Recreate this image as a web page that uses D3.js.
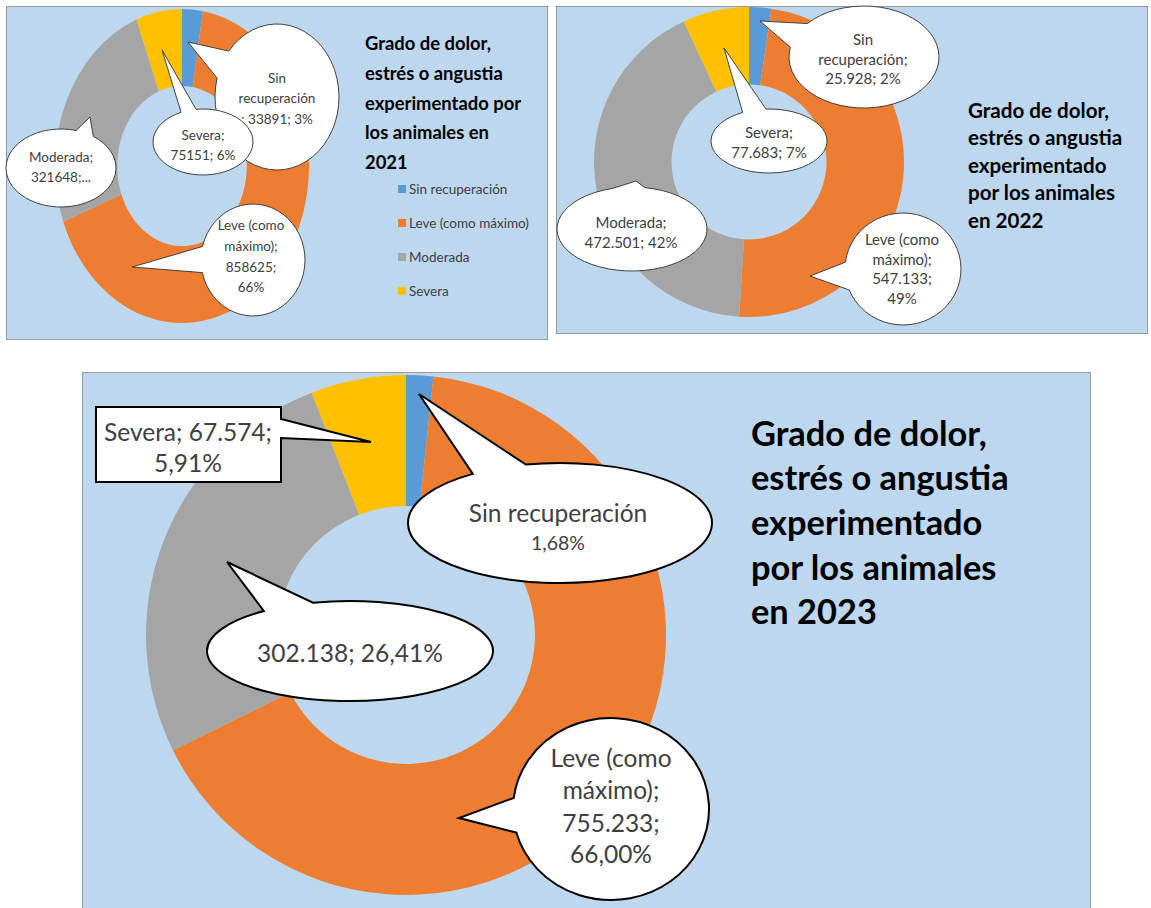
<!DOCTYPE html>
<html>
<head>
<meta charset="utf-8">
<script src="https://cdn.jsdelivr.net/npm/d3@7"></script>
<style>
  body { margin: 0; background: #ffffff; }
  svg { display: block; }
  text { font-family: Lato, "Open Sans", sans-serif; }
</style>
</head>
<body>
<svg id="chart" width="1151" height="908"></svg>
<script>
// ---- data -------------------------------------------------------------
const categories = ["Sin recuperación", "Leve (como máximo)", "Moderada", "Severa"];

const values2021 = [33891, 858625, 321648, 75151];
const values2022 = [25928, 547133, 472501, 77683];
const values2023 = [19250, 755233, 302138, 67574];

const labels2021 = [
  ["Sin", "recuperación", "; 33891; 3%"],
  ["Leve (como", "máximo);", "858625;", "66%"],
  ["Moderada;", "321648;..."],
  ["Severa;", "75151; 6%"]
];
const labels2022 = [
  ["Sin", "recuperación;", "25.928; 2%"],
  ["Leve (como", "máximo);", "547.133;", "49%"],
  ["Moderada;", "472.501; 42%"],
  ["Severa;", "77.683; 7%"]
];
const labels2023 = [
  ["Sin recuperación", "1,68%"],
  ["Leve (como", "máximo);", "755.233;", "66,00%"],
  ["302.138; 26,41%"],
  ["Severa; 67.574;", "5,91%"]
];

const title2021 = ["Grado de dolor,", "estrés o angustia", "experimentado por", "los animales en", "2021"];
const title2022 = ["Grado de dolor,", "estrés o angustia", "experimentado", "por los animales", "en 2022"];
const title2023 = ["Grado de dolor,", "estrés o angustia", "experimentado", "por los animales", "en 2023"];

// ---- styles -----------------------------------------------------------
const sliceColors = ["#5B9BD5", "#ED7D31", "#A5A5A5", "#FFC000"];
const panelFill = "#BDD7EE";
const panelStroke = "#9a9a9a";
const labelColor = "#404040";

// ---- layout of the three panels ---------------------------------------
const panels = [
  {
    values: values2021, labels: labels2021,
    box: { x: 6, y: 6, w: 541, h: 333 },
    donut: { cx: 182, cy: 166, rx: 127, ry: 157, hole: 0.51 },
    title: title2021, titleX: 365, titleY: 43, titleStep: 29.8, titleSize: 18.4,
    labelSize: 13.5, calloutStroke: "#404040", calloutWidth: 1,
    callouts: [
      { cx: 277, cy: 97, rx: 62, ry: 73, a: [219, 195], tip: [188, 42], x: 277, ys: [78, 98, 119] },
      { cx: 253, cy: 260, rx: 52, ry: 56, a: [194, 167], tip: [132, 267], x: 251, ys: [225, 246, 267, 287] },
      { cx: 61, cy: 168, rx: 55, ry: 39, a: [286, 306], tip: [90, 117], x: 61, ys: [157, 177] },
      { cx: 203, cy: 142, rx: 50, ry: 33, a: [244, 262], tip: [162, 50], x: 203, ys: [135, 155] }
    ],
    legend: { x: 398, y: 189, step: 34, size: 13.5 }
  },
  {
    values: values2022, labels: labels2022,
    box: { x: 556, y: 6, w: 591, h: 327 },
    donut: { cx: 749, cy: 162, rx: 155, ry: 155, hole: 0.5 },
    title: title2022, titleX: 968, titleY: 110, titleStep: 27.4, titleSize: 20.6,
    labelSize: 15, calloutStroke: "#404040", calloutWidth: 1,
    callouts: [
      { cx: 864, cy: 57, rx: 75, ry: 51, a: [221, 191], tip: [760, 21], x: 863, ys: [39, 59, 78] },
      { cx: 903, cy: 269, rx: 58, ry: 56, a: [187, 158], tip: [810, 276], x: 902, ys: [239, 259, 278, 298] },
      { cx: 632, cy: 229, rx: 75, ry: 42, a: [255, 280], tip: [636, 181], x: 631, ys: [222, 242] },
      { cx: 769, cy: 141, rx: 58, ry: 32, a: [243, 267], tip: [724, 48], x: 769, ys: [132, 152] }
    ]
  },
  {
    values: values2023, labels: labels2023,
    box: { x: 82, y: 372, w: 1008, h: 560 },
    donut: { cx: 406, cy: 635, rx: 260, ry: 260, hole: 0.496 },
    title: title2023, titleX: 751, titleY: 432, titleStep: 44.7, titleSize: 34.4,
    labelSize: 24.5, calloutStroke: "#000000", calloutWidth: 2,
    callouts: [
      { cx: 560, cy: 523, rx: 152, ry: 60, a: [235, 257], tip: [419, 394], x: 558, ys: [512, 542], sizes: [24.5, 19.5] },
      { cx: 611, cy: 809, rx: 98, ry: 91, a: [187, 165], tip: [459, 818], x: 611, ys: [757, 789, 822, 853] },
      { cx: 350, cy: 651, rx: 143, ry: 50, a: [233, 255], tip: [227, 562], x: 350, ys: [652] },
      { rect: { x: 96, y: 407, w: 185, h: 75 }, gap: [419, 438], tip: [371, 442], x: 188, ys: [431, 462] }
    ]
  }
];

// ---- drawing ----------------------------------------------------------
const svg = d3.select("#chart");
const pie = d3.pie().sort(null).value(d => d);

// ellipse balloon whose pointer leaves the outline between two angles
function ellipseCallout(c) {
  const P = t => [c.cx + c.rx * Math.cos(t * Math.PI / 180), c.cy + c.ry * Math.sin(t * Math.PI / 180)];
  let [a, b] = c.a;
  const d = ((a - b) % 360 + 360) % 360;
  if (d > 180) [a, b] = [b, a];
  const p1 = P(a), p2 = P(b);
  return `M${p1}A${c.rx},${c.ry} 0 1 1 ${p2}L${c.tip}Z`;
}

// rectangular label box with a pointer out of its right side
function rectCallout(c) {
  const r = c.rect, x2 = r.x + r.w, y2 = r.y + r.h;
  return `M${r.x},${r.y}H${x2}V${c.gap[0]}L${c.tip}L${x2},${c.gap[1]}V${y2}H${r.x}Z`;
}

panels.forEach(p => {
  const g = svg.append("g");

  // panel background
  g.append("rect")
    .attr("x", p.box.x + 0.5).attr("y", p.box.y + 0.5)
    .attr("width", p.box.w).attr("height", p.box.h)
    .attr("fill", panelFill).attr("stroke", panelStroke).attr("stroke-width", 1);

  // donut
  const arc = d3.arc().innerRadius(p.donut.rx * p.donut.hole).outerRadius(p.donut.rx);
  g.append("g")
    .attr("transform", `translate(${p.donut.cx},${p.donut.cy}) scale(1,${p.donut.ry / p.donut.rx})`)
    .selectAll("path")
    .data(pie(p.values))
    .join("path")
    .attr("d", arc)
    .attr("fill", (d, i) => sliceColors[i]);

  // data callouts
  p.callouts.forEach((c, i) => {
    g.append("path")
      .attr("d", c.rect ? rectCallout(c) : ellipseCallout(c))
      .attr("fill", "#ffffff")
      .attr("stroke", p.calloutStroke)
      .attr("stroke-width", p.calloutWidth)
      .attr("stroke-linejoin", "miter");
    g.selectAll(null)
      .data(p.labels[i])
      .join("text")
      .attr("x", c.x)
      .attr("y", (d, j) => c.ys[j])
      .attr("text-anchor", "middle")
      .attr("dominant-baseline", "central")
      .attr("font-size", (d, j) => (c.sizes ? c.sizes[j] : p.labelSize))
      .attr("fill", labelColor)
      .text(d => d);
  });

  // title
  g.selectAll(null)
    .data(p.title)
    .join("text")
    .attr("x", p.titleX)
    .attr("y", (d, j) => p.titleY + j * p.titleStep)
    .attr("dominant-baseline", "central")
    .attr("font-size", p.titleSize)
    .attr("font-weight", 700)
    .attr("fill", "#000000")
    .text(d => d);

  // legend
  if (p.legend) {
    const rows = g.append("g").selectAll("g")
      .data(categories)
      .join("g")
      .attr("transform", (d, i) => `translate(${p.legend.x},${p.legend.y + i * p.legend.step})`);
    rows.append("rect")
      .attr("x", 0).attr("y", -4).attr("width", 8).attr("height", 8)
      .attr("fill", (d, i) => sliceColors[i]);
    rows.append("text")
      .attr("x", 11).attr("y", 0)
      .attr("dominant-baseline", "central")
      .attr("font-size", p.legend.size)
      .attr("fill", labelColor)
      .text(d => d);
  }
});
</script>
</body>
</html>
